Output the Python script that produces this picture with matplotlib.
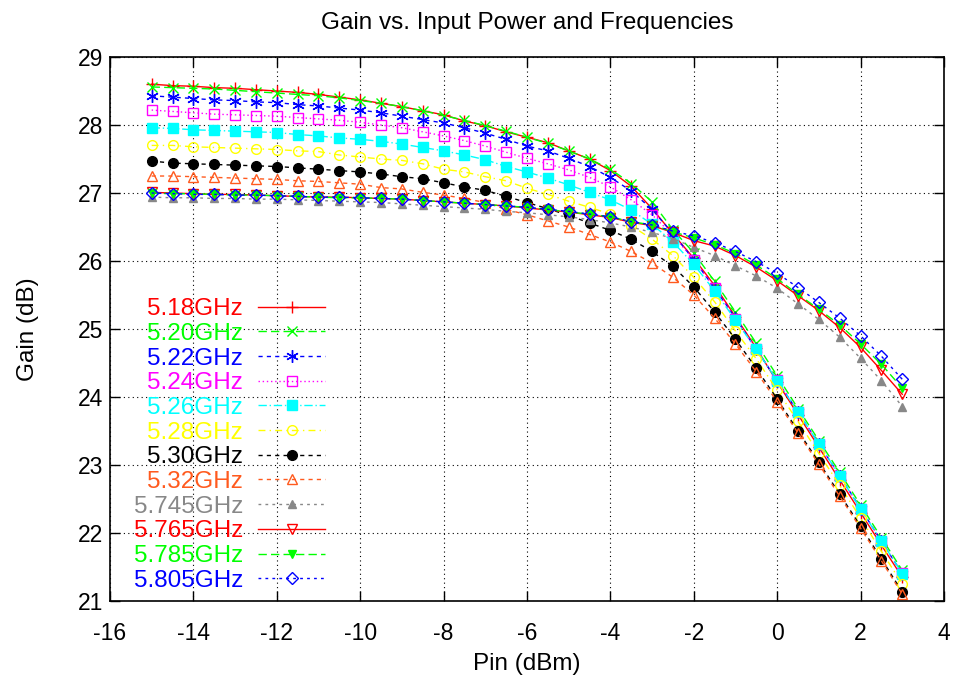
#!/usr/bin/env python
# -*- coding:utf-8 -*-
# Gain vs. input power, several carrier frequencies
import matplotlib
matplotlib.use('Agg')
import matplotlib.pyplot as plt

plt.rcParams['font.family'] = ['Liberation Sans', 'DejaVu Sans']
plt.rcParams['axes.unicode_minus'] = False

# ---------------- data ----------------
pin = [-15, -14.5, -14, -13.5, -13, -12.5, -12, -11.5, -11, -10.5, -10, -9.5, -9,
       -8.5, -8, -7.5, -7, -6.5, -6, -5.5, -5, -4.5, -4, -3.5, -3, -2.5, -2,
       -1.5, -1, -0.5, 0, 0.5, 1, 1.5, 2, 2.5, 3]

freqs = ['5.18GHz', '5.20GHz', '5.22GHz', '5.24GHz', '5.26GHz', '5.28GHz',
         '5.30GHz', '5.32GHz', '5.745GHz', '5.765GHz', '5.785GHz', '5.805GHz']

g_518 = [28.60, 28.58, 28.57, 28.55, 28.54, 28.52, 28.50, 28.48, 28.45, 28.41, 28.37, 28.32, 28.27,
         28.21, 28.15, 28.06, 27.99, 27.90, 27.82, 27.74, 27.62, 27.50, 27.33, 27.10, 26.77, 26.40, 26.04,
         25.64, 25.18, 24.72, 24.22, 23.74, 23.26, 22.78, 22.30, 21.82, 21.35]
g_520 = [28.56, 28.55, 28.54, 28.53, 28.51, 28.49, 28.47, 28.45, 28.43, 28.40, 28.36, 28.32, 28.27,
         28.21, 28.14, 28.07, 27.99, 27.91, 27.82, 27.73, 27.62, 27.50, 27.35, 27.14, 26.87, 26.46, 26.12,
         25.70, 25.25, 24.79, 24.31, 23.83, 23.36, 22.89, 22.41, 21.93, 21.45]
g_522 = [28.43, 28.41, 28.39, 28.37, 28.36, 28.34, 28.33, 28.30, 28.28, 28.25, 28.22, 28.18, 28.13,
         28.08, 28.03, 27.96, 27.88, 27.79, 27.69, 27.62, 27.51, 27.39, 27.23, 27.03, 26.76, 26.40, 26.02,
         25.60, 25.16, 24.70, 24.24, 23.78, 23.31, 22.84, 22.36, 21.88, 21.40]
g_524 = [28.22, 28.20, 28.18, 28.16, 28.15, 28.14, 28.13, 28.11, 28.09, 28.07, 28.04, 28.00, 27.96,
         27.90, 27.84, 27.77, 27.69, 27.60, 27.51, 27.43, 27.34, 27.23, 27.09, 26.90, 26.68, 26.38, 26.02,
         25.60, 25.15, 24.70, 24.25, 23.78, 23.31, 22.84, 22.36, 21.88, 21.41]
g_526 = [27.96, 27.95, 27.93, 27.92, 27.91, 27.90, 27.89, 27.86, 27.84, 27.81, 27.79, 27.76, 27.72,
         27.67, 27.62, 27.56, 27.49, 27.39, 27.31, 27.22, 27.12, 27.01, 26.90, 26.75, 26.54, 26.28, 25.95,
         25.56, 25.13, 24.70, 24.24, 23.78, 23.31, 22.84, 22.35, 21.88, 21.40]
g_528 = [27.70, 27.70, 27.68, 27.67, 27.66, 27.65, 27.64, 27.62, 27.61, 27.56, 27.53, 27.50, 27.48,
         27.43, 27.35, 27.31, 27.24, 27.18, 27.07, 26.98, 26.88, 26.79, 26.69, 26.52, 26.32, 26.08, 25.76,
         25.40, 24.97, 24.56, 24.10, 23.64, 23.17, 22.70, 22.22, 21.73, 21.25]
g_530 = [27.47, 27.44, 27.43, 27.42, 27.41, 27.40, 27.39, 27.37, 27.35, 27.33, 27.31, 27.28, 27.24,
         27.21, 27.15, 27.09, 27.04, 26.95, 26.86, 26.77, 26.67, 26.56, 26.45, 26.32, 26.14, 25.92, 25.62,
         25.25, 24.85, 24.42, 23.97, 23.50, 23.04, 22.57, 22.10, 21.62, 21.13]
g_532 = [27.25, 27.25, 27.24, 27.23, 27.22, 27.21, 27.20, 27.18, 27.17, 27.15, 27.13, 27.08, 27.06,
         27.01, 26.97, 26.92, 26.86, 26.76, 26.68, 26.59, 26.50, 26.39, 26.28, 26.14, 25.97, 25.76, 25.50,
         25.16, 24.78, 24.37, 23.93, 23.47, 23.01, 22.54, 22.07, 21.59, 21.10]
g_5745 = [26.94, 26.93, 26.93, 26.92, 26.92, 26.91, 26.91, 26.90, 26.89, 26.88, 26.87, 26.86, 26.84,
          26.82, 26.80, 26.78, 26.76, 26.73, 26.71, 26.68, 26.65, 26.61, 26.56, 26.50, 26.42, 26.33, 26.20,
          26.08, 25.93, 25.78, 25.60, 25.37, 25.14, 24.88, 24.57, 24.24, 23.86]
g_5765 = [27.01, 27.00, 26.99, 26.98, 26.98, 26.97, 26.96, 26.95, 26.94, 26.94, 26.93, 26.92, 26.91,
          26.89, 26.87, 26.85, 26.83, 26.81, 26.78, 26.75, 26.72, 26.68, 26.64, 26.57, 26.52, 26.42, 26.30,
          26.22, 26.08, 25.91, 25.71, 25.49, 25.27, 25.02, 24.73, 24.39, 24.04]
g_5785 = [27.00, 26.99, 26.99, 26.98, 26.97, 26.97, 26.96, 26.95, 26.94, 26.93, 26.93, 26.92, 26.91,
          26.89, 26.87, 26.85, 26.83, 26.81, 26.79, 26.76, 26.72, 26.69, 26.65, 26.58, 26.53, 26.43, 26.34,
          26.24, 26.11, 25.94, 25.74, 25.51, 25.29, 25.06, 24.78, 24.48, 24.13]
g_5805 = [27.00, 26.99, 26.98, 26.98, 26.97, 26.97, 26.96, 26.95, 26.94, 26.94, 26.93, 26.92, 26.91,
          26.89, 26.87, 26.85, 26.83, 26.81, 26.79, 26.76, 26.73, 26.69, 26.65, 26.58, 26.53, 26.44, 26.37,
          26.27, 26.14, 25.99, 25.82, 25.61, 25.39, 25.16, 24.90, 24.60, 24.26]

gains = [g_518, g_520, g_522, g_524, g_526, g_528, g_530, g_532, g_5745, g_5765, g_5785, g_5805]

# ---------------- styles (gnuplot look) ----------------
colors = ['#ff0000', '#00ff00', '#0000ff', '#ff00ff', '#00ffff', '#ffff00',
          '#000000', '#ff5a1e', '#888888', '#ff0000', '#00ff00', '#0000ff']
markers = ['+', 'x', (6, 2, 0), 's', 's', 'o', 'o', '^', '^', 'v', 'v', 'D']
filled = [True, True, True, False, True, False, True, False, True, False, True, False]
sizes = [9, 7, 9, 7.5, 7, 7, 7, 7, 6, 7, 6, 6]
dashes = [(None, None), (6, 3), (3, 3), (1, 2), (6, 2, 1, 2), (5, 3, 1, 3),
          (3, 3), (3, 3), (2, 3), (None, None), (6, 3), (2, 3)]

fig = plt.figure(figsize=(9.57, 6.79), dpi=100)
ax = fig.add_axes([0.1149, 0.1149, 0.9864 - 0.1149, 0.916 - 0.1149])

for i in range(len(freqs)):
    kw = dict(color=colors[i], lw=1.0, marker=markers[i], ms=sizes[i],
              mew=1.0, label=freqs[i])
    if filled[i]:
        kw['mfc'] = colors[i]
    else:
        kw['mfc'] = 'none'
    kw['mec'] = colors[i]
    line, = ax.plot(pin, gains[i], **kw)
    if dashes[i][0] is not None:
        line.set_dashes(dashes[i])

ax.set_xlim(-16, 4)
ax.set_ylim(21, 29)
ax.set_xticks(range(-16, 5, 2))
ax.set_yticks(range(21, 30))
ax.tick_params(direction='in', top=True, right=True, length=7, width=1.0,
               labelsize=16.5)
ax.tick_params(axis='x', pad=15)
ax.tick_params(axis='y', pad=5)
ax.grid(True, color='black', linestyle=(0, (1, 3)), linewidth=0.8)
for s in ax.spines.values():
    s.set_linewidth(1.2)

ax.set_title('Gain vs. Input Power and Frequencies', fontsize=17.5, pad=20)
ax.set_xlabel('Pin (dBm)', fontsize=17.5, labelpad=6)
ax.set_ylabel('Gain (dB)', fontsize=17.5, labelpad=28)

leg = ax.legend(loc='lower right', bbox_to_anchor=(0.258, 0.017), frameon=False,
                markerfirst=False, fontsize=17.5, labelcolor='linecolor',
                handlelength=2.75, handletextpad=0.62, labelspacing=0.11,
                borderpad=0.0, borderaxespad=0.0)

fig.savefig('out.png', dpi=100)
